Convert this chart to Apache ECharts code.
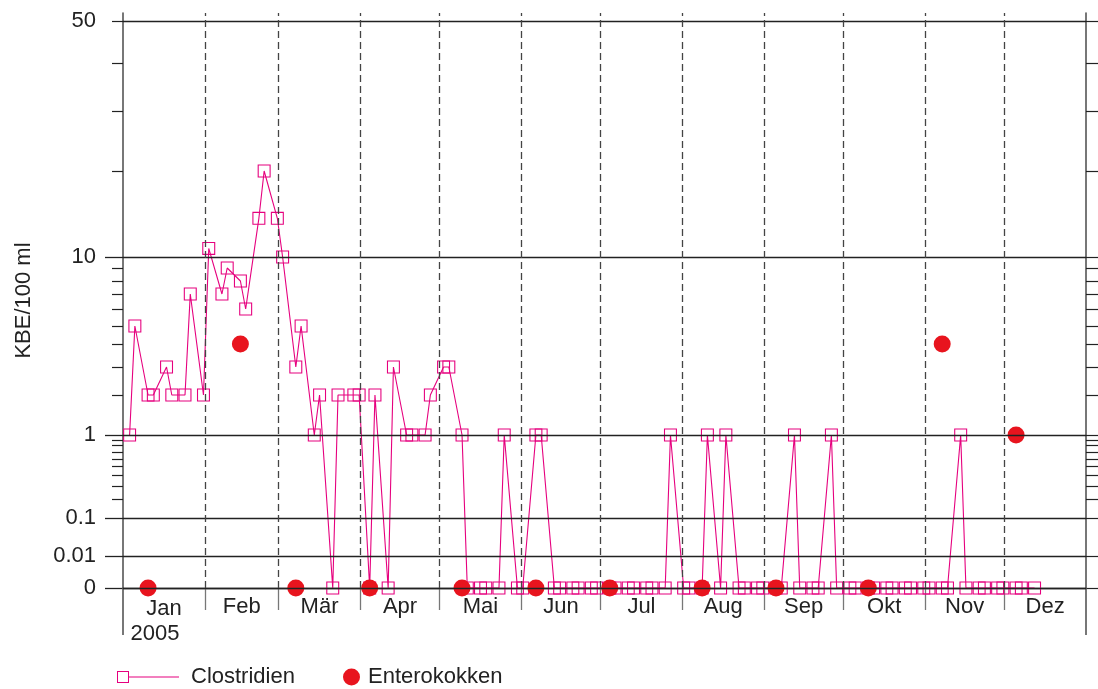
<!DOCTYPE html>
<html>
<head>
<meta charset="utf-8">
<script src="https://cdn.jsdelivr.net/npm/echarts@6/dist/echarts.min.js"></script>
<style>
  html, body { margin: 0; padding: 0; background: #fff; }
  #chart { width: 1098px; height: 689px; }
</style>
</head>
<body>
<div id="chart"></div>
<script>
// Probenahmetage 2005 (MM-TT) und Messwerte KBE/100 ml
const clostDates = [
  '01-03', '01-05', '01-10', '01-12', '01-17', '01-19', '01-24', '01-26', '01-31', '02-02',
  '02-07', '02-09', '02-14', '02-16', '02-21', '02-23', '02-28', '03-02', '03-07', '03-09',
  '03-14', '03-16', '03-21', '03-23', '03-29', '03-31', '04-04', '04-06', '04-11', '04-13',
  '04-18', '04-20', '04-25', '04-27', '05-02', '05-04', '05-09', '05-11', '05-16', '05-18',
  '05-23', '05-25', '05-30', '06-01', '06-06', '06-08', '06-13', '06-15', '06-20', '06-22',
  '06-27', '06-29', '07-04', '07-06', '07-11', '07-13', '07-18', '07-20', '07-25', '07-27',
  '08-01', '08-03', '08-08', '08-10', '08-15', '08-17', '08-22', '08-24', '08-29', '08-31',
  '09-05', '09-07', '09-12', '09-14', '09-19', '09-21', '09-26', '09-28', '10-03', '10-05',
  '10-10', '10-12', '10-17', '10-19', '10-24', '10-26', '10-31', '11-02', '11-07', '11-09',
  '11-14', '11-16', '11-21', '11-23', '11-28', '11-30', '12-05', '12-07', '12-12'
];
const clostValues = [
  1, 5, 2, 2, 3, 2, 2, 7, 2, 11,
  7, 9, 8, 6, 14.5, 20, 14.5, 10, 3, 5,
  1, 2, 0, 2, 2, 2, 0, 2, 0, 3,
  1, 1, 1, 2, 3, 3, 1, 0, 0, 0,
  0, 1, 0, 0, 1, 1, 0, 0, 0, 0,
  0, 0, 0, 0, 0, 0, 0, 0, 0, 1,
  0, 0, 0, 1, 0, 1, 0, 0, 0, 0,
  0, 0, 1, 0, 0, 0, 1, 0, 0, 0,
  0, 0, 0, 0, 0, 0, 0, 0, 0, 0,
  1, 0, 0, 0, 0, 0, 0, 0, 0
];
const enteroDates = ['01-10', '02-14', '03-07', '04-04', '05-09', '06-06', '07-04', '08-08', '09-05', '10-10', '11-07', '12-05'];
const enteroValues = [0, 4, 0, 0, 0, 0, 0, 0, 0, 0, 4, 1];

const monthNames = ['Jan', 'Feb', 'Mär', 'Apr', 'Mai', 'Jun', 'Jul', 'Aug', 'Sep', 'Okt', 'Nov', 'Dez'];
const yearLabel = '2005';
const yLabelValues = [0, 0.01, 0.1, 1, 10, 50];
const yMajorTicks = [0, 0.01, 0.1, 1, 10];
const yMinorTicks = [0.2, 0.3, 0.4, 0.5, 0.6, 0.7, 0.8, 0.9, 2, 3, 4, 5, 6, 7, 8, 9, 20, 30, 40, 50];

// gebrochene Skala des Originals: Wert -> Position (px über der 0-Linie)
const scaleKnots = [
  [0, 0], [0.01, 32], [0.1, 70], [0.2, 89], [0.3, 101.3], [0.4, 112.3], [0.5, 121.3],
  [0.6, 129], [0.7, 136], [0.8, 142.3], [0.9, 148], [1, 153], [2, 193], [3, 221],
  [4, 244], [5, 262], [6, 279], [7, 294], [8, 307], [9, 320], [10, 331],
  [20, 417], [30, 477], [40, 525], [50, 567]
];
function toPos(v) {
  for (let i = 1; i < scaleKnots.length; i++) {
    const [v0, p0] = scaleKnots[i - 1];
    const [v1, p1] = scaleKnots[i];
    if (v <= v1) return p0 + (v - v0) / (v1 - v0) * (p1 - p0);
  }
  return scaleKnots[scaleKnots.length - 1][1];
}
const dayMs = 864e5;
const yearStart = Date.UTC(2005, 0, 1);
function toDay(s) {
  const [m, d] = s.split('-').map(Number);
  return (Date.UTC(2005, m - 1, d) - yearStart) / dayMs + 0.5; // Tagesmitte
}
const monthStarts = monthNames.map((_, i) => (Date.UTC(2005, i, 1) - yearStart) / dayMs);
const yearDays = (Date.UTC(2006, 0, 1) - yearStart) / dayMs;
const monthMids = monthStarts.map((s, i) => (s + (i < 11 ? monthStarts[i + 1] : yearDays)) / 2);

const labelByPos = {};
yLabelValues.forEach(v => { labelByPos[toPos(v).toFixed(1)] = String(v); });

const FONT = "'Liberation Sans', Arial, Helvetica, sans-serif";
const MAGENTA = '#e6007e';
const RED = '#e8141e';
const INK = '#222';
const Y_MAX = 575;

const squareRing = 'path://M0,0H12V12H0Z M1,1V11H11V1Z';
const legendLineIcon = 'path://M0,0H12V12H0Z M1,1V11H11V1Z M12,5.5H62V6.6H12Z';

const chart = echarts.init(document.getElementById('chart'));
const option = {
  animation: false,
  backgroundColor: '#fff',
  textStyle: { fontFamily: FONT },
  grid: { left: 123, right: 12, top: 13, bottom: 101 },
  legend: [
    {
      data: [{ name: 'Clostridien', icon: legendLineIcon, itemStyle: { color: MAGENTA, borderWidth: 0 } }],
      left: 117, top: 666, padding: 0,
      itemWidth: 62, itemHeight: 12,
      textStyle: { fontSize: 22, color: INK, fontFamily: FONT, padding: [0, 0, 0, 7] },
      selectedMode: false
    },
    {
      data: [{ name: 'Enterokokken', icon: 'circle', itemStyle: { color: RED, opacity: 1 } }],
      left: 343, top: 666, padding: 0,
      itemWidth: 17, itemHeight: 17,
      textStyle: { fontSize: 22, color: INK, fontFamily: FONT, padding: [0, 0, 0, 3] },
      selectedMode: false
    }
  ],
  xAxis: [
    {
      type: 'value', min: 0, max: yearDays, position: 'bottom',
      axisLine: { show: true, onZero: false, lineStyle: { color: INK, width: 1.3 } },
      axisTick: { show: true, length: 22, customValues: monthStarts.slice(1), lineStyle: { color: '#777', width: 1.3 } },
      axisLabel: {
        customValues: monthMids, margin: 8, fontSize: 22, color: INK, fontFamily: FONT,
        formatter: (val) => {
          let idx = 0, best = Infinity;
          monthMids.forEach((m, i) => { if (Math.abs(m - val) < best) { best = Math.abs(m - val); idx = i; } });
          return idx === 0 ? '{m|' + monthNames[0] + '}\n{y|' + yearLabel + '}' : monthNames[idx];
        },
        rich: {
          m: { fontSize: 22, lineHeight: 25, color: INK, fontFamily: FONT },
          y: { fontSize: 22, lineHeight: 25, color: INK, fontFamily: FONT, padding: [0, 18, 0, 0] }
        }
      },
      splitLine: { show: false }
    },
    {
      type: 'value', min: 0, max: yearDays, position: 'bottom',
      axisLine: { show: false },
      axisTick: { show: true, length: 47, customValues: [0, yearDays], lineStyle: { color: '#555', width: 1.6 } },
      axisLabel: { show: false },
      splitLine: { show: false }
    }
  ],
  yAxis: [
    {
      type: 'value', min: 0, max: Y_MAX, position: 'left',
      name: 'KBE/100 ml', nameLocation: 'middle', nameGap: 88, nameRotate: 90,
      nameTextStyle: { fontSize: 22, color: INK, fontFamily: FONT },
      axisLine: { show: true, lineStyle: { color: '#555', width: 1.6 } },
      axisTick: { show: true, length: 18, customValues: yMajorTicks.map(toPos), lineStyle: { color: INK, width: 1.3 } },
      axisLabel: {
        customValues: yLabelValues.map(toPos), margin: 27, fontSize: 22, color: INK, fontFamily: FONT,
        formatter: (val) => labelByPos[Number(val).toFixed(1)] || ''
      },
      splitLine: { show: false }
    },
    {
      type: 'value', min: 0, max: Y_MAX, position: 'left',
      axisLine: { show: false },
      axisTick: { show: true, length: 11, customValues: yMinorTicks.map(toPos), lineStyle: { color: INK, width: 1.2 } },
      axisLabel: { show: false },
      splitLine: { show: false }
    },
    {
      type: 'value', min: 0, max: Y_MAX, position: 'right',
      axisLine: { show: true, lineStyle: { color: '#555', width: 1.6 } },
      axisTick: { show: true, length: 12, customValues: yMajorTicks.concat(yMinorTicks).map(toPos), lineStyle: { color: INK, width: 1.2 } },
      axisLabel: { show: false },
      splitLine: { show: false }
    }
  ],
  series: [
    {
      name: 'Clostridien',
      type: 'line',
      data: clostDates.map((d, i) => [toDay(d), toPos(clostValues[i])]),
      symbol: squareRing,
      symbolSize: 13,
      clip: false,
      z: 3,
      lineStyle: { color: MAGENTA, width: 1.1 },
      itemStyle: { color: MAGENTA },
      emphasis: { disabled: true },
      markLine: {
        silent: true,
        symbol: 'none',
        animation: false,
        label: { show: false },
        emphasis: { disabled: true },
        data: yLabelValues.map(v => ({ yAxis: toPos(v), lineStyle: { type: 'solid', color: INK, width: 1.3 } }))
          .concat(monthStarts.slice(1).map(d => ({ xAxis: d, lineStyle: { type: [7, 4], color: '#444', width: 1.3 } })))
      }
    },
    {
      name: 'Enterokokken',
      type: 'scatter',
      data: enteroDates.map((d, i) => [toDay(d), toPos(enteroValues[i])]),
      symbol: 'circle',
      symbolSize: 17,
      clip: false,
      z: 4,
      itemStyle: { color: RED, opacity: 1 },
      emphasis: { disabled: true }
    }
  ]
};
chart.setOption(option);
</script>
</body>
</html>
